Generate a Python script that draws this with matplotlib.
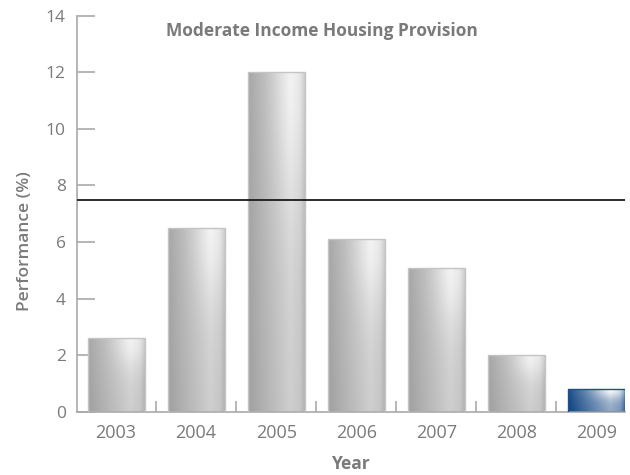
"""Moderate income housing provision, performance by year"""

import matplotlib
matplotlib.use("Agg")
import matplotlib.pyplot as plt
import matplotlib.patches as mpatches
import numpy as np

plt.rcParams.update({
    "font.family": ["Open Sans", "DejaVu Sans"],
    "font.size": 12,
})

years = ["2003", "2004", "2005", "2006", "2007", "2008", "2009"]
performance = [2.6, 6.5, 12.0, 6.1, 5.1, 2.0, 0.8]
target = 7.5

AXIS_GREY = "#a9a9a9"
TEXT_GREY = "#7a7a7a"
BAR_W = 0.71


def shade(base, light, nx=60, ny=60):
    """Horizontal sheen with a soft highlight near the top right."""
    u = np.linspace(0, 1, nx)[None, :]
    v = np.linspace(0, 1, ny)[:, None]          # 0 = top
    sheen = np.interp(u, [0, 0.15, 0.75, 0.92, 1.0], [0.05, 0.25, 0.9, 0.75, 0.4])
    glow = np.exp(-(((u - 0.78) / 0.35) ** 2 + (v / 0.4) ** 2))
    t = np.clip(0.7 * sheen + 0.35 * glow - 0.1 * v, 0, 1)[..., None]
    base = np.array(matplotlib.colors.to_rgb(base))
    light = np.array(matplotlib.colors.to_rgb(light))
    return base * (1 - t) + light * t


fig, ax = plt.subplots(figsize=(6.3, 4.75), dpi=100)
fig.subplots_adjust(left=0.122, right=0.992, bottom=0.133, top=0.967)

x = np.arange(len(years))
for i, (xi, h) in enumerate(zip(x, performance)):
    last = i == len(years) - 1
    img = shade("#174a86", "#ffffff") if last else shade("#a4a4a4", "#f4f4f4")
    rect = mpatches.Rectangle((xi - BAR_W / 2, 0), BAR_W, h,
                              facecolor="none",
                              edgecolor="#1d4f8a" if last else "#c4c4c4",
                              linewidth=1.0, zorder=3)
    ax.add_patch(rect)
    im = ax.imshow(img, extent=[xi - BAR_W / 2, xi + BAR_W / 2, 0, h],
                   aspect="auto", interpolation="bilinear", zorder=2)
    im.set_clip_path(rect)

ax.axhline(target, color="#1a1a1a", linewidth=1.3, zorder=4)

ax.set_xlim(-0.49, len(years) - 1 + BAR_W / 2)
ax.set_ylim(0, 14)
ax.set_yticks(np.arange(0, 15, 2))
ax.set_xticks(x)
ax.set_xticklabels(years)
ax.set_xticks(x[:-1] + 0.5, minor=True)

for s in ["top", "right"]:
    ax.spines[s].set_visible(False)
for s in ["left", "bottom"]:
    ax.spines[s].set_color(AXIS_GREY)
    ax.spines[s].set_linewidth(1.2)

ax.tick_params(axis="y", direction="in", length=13, width=1.2,
               color=AXIS_GREY, labelcolor=TEXT_GREY, labelsize=12.5, pad=8)
ax.tick_params(axis="x", which="major", length=0, labelcolor=TEXT_GREY,
               labelsize=13, pad=9)
ax.tick_params(axis="x", which="minor", direction="in", length=8, width=1.2,
               color=AXIS_GREY)

ax.set_xlabel("Year", fontweight="bold", color=TEXT_GREY, fontsize=12.5)
ax.xaxis.set_label_coords(0.5, -0.108)
ax.set_ylabel("Performance (%)", fontweight="semibold", color=TEXT_GREY, fontsize=12.5)
ax.yaxis.set_label_coords(-0.08, 0.432)
ax.text(0.448, 0.962, "Moderate Income Housing Provision", transform=ax.transAxes,
        ha="center", va="center", fontweight="bold", color=TEXT_GREY, fontsize=12.5)

fig.savefig("out.png", dpi=100)
